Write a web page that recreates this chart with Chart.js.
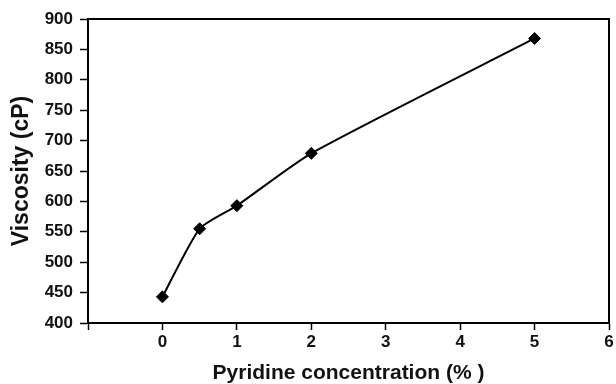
<!DOCTYPE html>
<html>
<head>
<meta charset="utf-8">
<script src="https://cdn.jsdelivr.net/npm/chart.js@4"></script>
<style>
    html, body { margin: 0; padding: 0; background: #fff; }
    #myChart { display: block; }
</style>
</head>
<body>
<canvas id="myChart" width="616" height="384"></canvas>
<script>
// ピリジン濃度 (%)
const concentrations = [0, 0.5, 1, 2, 5];
// 粘度 (cP)
const viscosities = [443, 555, 593, 679, 868];

const xTitle = 'Pyridine concentration (% )';
const yTitle = 'Viscosity (cP)';

const fontFamily = '"Liberation Sans", Arial, sans-serif';

/**
 * プロット領域の枠線を描画します。
 */
const frameBox = {
    id: 'frameBox',
    afterDatasetsDraw: (chart) => {
        const ctx = chart.ctx;
        const area = chart.chartArea;
        ctx.save();
        ctx.strokeStyle = '#000';
        ctx.lineWidth = 2;
        ctx.strokeRect(area.left, area.top, area.right - area.left, area.bottom - area.top);
        ctx.restore();
    },
};

const points = concentrations.map((x, i) => ({ x: x, y: viscosities[i] }));

const config = {
    type: 'scatter',
    data: {
        datasets: [
            {
                data: points,
                showLine: true,
                tension: 0.2,
                borderColor: '#000',
                borderWidth: 2,
                pointStyle: 'rectRot',
                pointRadius: 6,
                pointBackgroundColor: '#000',
                pointBorderColor: '#000',
                pointBorderWidth: 1,
            },
        ],
    },
    options: {
        responsive: false,
        animation: false,
        layout: {
            padding: { top: 19, right: 5, left: 0, bottom: 0 },
        },
        plugins: {
            legend: { display: false },
            tooltip: { enabled: false },
        },
        scales: {
            x: {
                type: 'linear',
                min: -1,
                max: 6,
                afterFit: (scale) => {
                    scale.height = 61;
                    scale.paddingLeft = 0;
                    scale.paddingRight = 0;
                },
                grid: {
                    drawOnChartArea: false,
                    drawTicks: true,
                    tickLength: 7,
                    tickWidth: 1.5,
                    tickColor: '#000',
                },
                border: { display: true, color: '#000', width: 2 },
                ticks: {
                    stepSize: 1,
                    padding: 2,
                    color: '#111',
                    font: { family: fontFamily, size: 17, weight: 'bold' },
                    callback: (value) => (value < 0 ? '' : value),
                },
                title: {
                    display: true,
                    text: xTitle,
                    color: '#111',
                    font: { family: fontFamily, size: 21, weight: 'bold', lineHeight: 1 },
                    padding: { top: 0, bottom: 0 },
                },
            },
            y: {
                min: 400,
                max: 900,
                afterFit: (scale) => {
                    scale.width = 88;
                },
                grid: {
                    drawOnChartArea: false,
                    drawTicks: true,
                    tickLength: 8,
                    tickWidth: 1.5,
                    tickColor: '#000',
                },
                border: { display: true, color: '#000', width: 2 },
                ticks: {
                    stepSize: 50,
                    padding: 7,
                    color: '#111',
                    font: { family: fontFamily, size: 17, weight: 'bold' },
                },
                title: {
                    display: true,
                    text: yTitle,
                    color: '#111',
                    font: { family: fontFamily, size: 23, weight: 'bold', lineHeight: 1 },
                    padding: { top: 10, bottom: 0 },
                },
            },
        },
    },
    plugins: [frameBox],
};

const myChart = new Chart(document.getElementById('myChart'), config);
</script>
</body>
</html>
